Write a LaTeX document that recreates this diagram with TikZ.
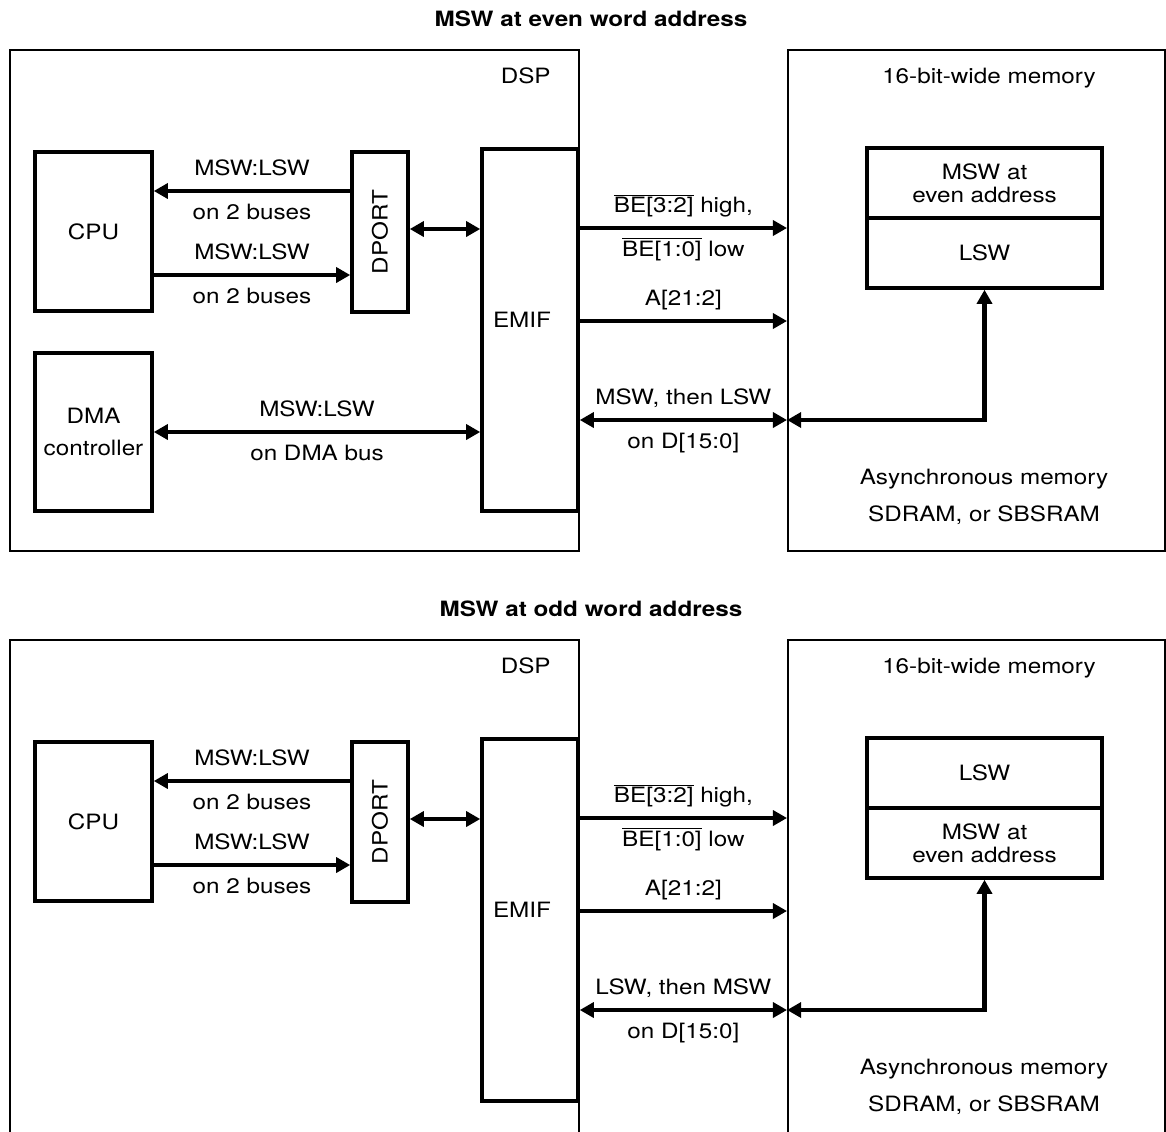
\documentclass[tikz,border=0pt]{standalone}
\usepackage{fontspec}
\setmainfont[FakeStretch=1.15]{TeX Gyre Heros}
\usetikzlibrary{positioning, arrows.meta}

\begin{document}
\begin{tikzpicture}[>={Triangle[length=8pt, width=8.5pt]}, font=\fontsize{12}{14}\selectfont,
    frame/.style={draw, line width=1.1pt, inner sep=0pt},
    blk/.style={draw, line width=2pt, inner sep=0pt, align=center},
    bus/.style={line width=2.6pt},
    lbl/.style={inner sep=0pt, text height=8.6pt, text depth=0pt},
    ttl/.style={inner sep=0pt, text height=8.6pt, text depth=0pt, font=\fontsize{12}{14}\selectfont\bfseries}]

    \useasboundingbox (0,0) rectangle (23.32,-22.62);

    % ===== Upper case: MSW at even word address =====
    \node[ttl, anchor=base] (titleA) at (11.82,-0.52) {MSW at even word address};

    % Outer frames
    \node[frame, minimum width=11.38cm, minimum height=10.02cm] (dspA) at (5.89,-6.01) {};
    \node[frame, minimum width=7.54cm, minimum height=10.02cm] (memA) at (19.53,-6.01) {};
    \node[lbl, anchor=base east] (dsplA) at (11.02,-1.66) {DSP};
    \node[lbl, anchor=base] (memlA) at (19.78,-1.66) {16-bit-wide memory};

    % Blocks inside the DSP
    \node[blk, minimum width=2.34cm, minimum height=3.18cm] (cpuA) at (1.87,-4.63) {CPU};
    \node[blk, minimum width=1.12cm, minimum height=3.2cm, label={[rotate=90]center:DPORT}] (dportA) at (7.6,-4.64) {};
    \node[blk, minimum width=1.92cm, minimum height=7.24cm] (emifA) at (10.6,-6.6) {};
    \node[lbl] (emiflA) at (10.44,-6.4) {EMIF};
    \node[blk, minimum width=2.34cm, minimum height=3.16cm, font=\fontsize{12}{18}\selectfont] (dmaA) at (1.87,-8.64) {DMA\\controller};

    % Memory cells
    \node[blk, minimum width=4.7cm, minimum height=1.4cm, font=\fontsize{12}{13}\selectfont] (hiA) at (19.69,-3.66) {MSW at\\even address};
    \node[blk, minimum width=4.7cm, minimum height=1.4cm] (loA) at (19.69,-5.06) {LSW};
    \node[align=center, font=\fontsize{12}{21}\selectfont] (asyA) at (19.68,-9.94) {Asynchronous memory\\SDRAM, or SBSRAM};

    % Bus levels
    \coordinate (r1A) at (0,-3.82);
    \coordinate (r2A) at (0,-5.5);
    \coordinate (r3A) at (0,-4.58);
    \coordinate (beA) at (0,-4.56);
    \coordinate (adA) at (0,-6.42);
    \coordinate (daA) at (0,-8.4);

    % CPU <-> DPORT <-> EMIF
    \draw[bus, ->] (dportA.west |- r1A) -- (cpuA.east |- r1A)
        node[midway, lbl, above=0.26cm] {MSW:LSW} node[midway, lbl, below=0.22cm] {on 2 buses};
    \draw[bus, ->] (cpuA.east |- r2A) -- (dportA.west |- r2A)
        node[midway, lbl, above=0.26cm] {MSW:LSW} node[midway, lbl, below=0.22cm] {on 2 buses};
    \draw[bus, <->] (dportA.east |- r3A) -- (emifA.west |- r3A);
    \draw[bus, <->] (dmaA.east) -- (dmaA.east -| emifA.west)
        node[midway, lbl, above=0.26cm] {MSW:LSW} node[midway, lbl, below=0.22cm] {on DMA bus};

    % EMIF -> memory
    \draw[bus, ->] (emifA.east |- beA) -- (memA.west |- beA)
        node[midway, lbl, above=0.26cm] {$\overline{\mbox{BE[3:2]}}$ high,}
        node[midway, lbl, below=0.22cm] {$\overline{\mbox{BE[1:0]}}$ low};
    \draw[bus, ->] (emifA.east |- adA) -- (memA.west |- adA)
        node[midway, lbl, above=0.26cm] {A[21:2]};
    \draw[bus, <->] (emifA.east |- daA) -- (memA.west |- daA)
        node[midway, lbl, above=0.26cm] {MSW, then LSW} node[midway, lbl, below=0.22cm] {on D[15:0]};
    \draw[bus, <->] (memA.west |- daA) -| (loA.south);

    % ===== Lower case: MSW at odd word address =====
    \begin{scope}[yshift=-11.8cm]
    \node[ttl, anchor=base] (titleB) at (11.82,-0.52) {MSW at odd word address};

    % Outer frames
    \node[frame, minimum width=11.38cm, minimum height=10.02cm] (dspB) at (5.89,-6.01) {};
    \node[frame, minimum width=7.54cm, minimum height=10.02cm] (memB) at (19.53,-6.01) {};
    \node[lbl, anchor=base east] (dsplB) at (11.02,-1.66) {DSP};
    \node[lbl, anchor=base] (memlB) at (19.78,-1.66) {16-bit-wide memory};

    % Blocks inside the DSP
    \node[blk, minimum width=2.34cm, minimum height=3.18cm] (cpuB) at (1.87,-4.63) {CPU};
    \node[blk, minimum width=1.12cm, minimum height=3.2cm, label={[rotate=90]center:DPORT}] (dportB) at (7.6,-4.64) {};
    \node[blk, minimum width=1.92cm, minimum height=7.24cm] (emifB) at (10.6,-6.6) {};
    \node[lbl] (emiflB) at (10.44,-6.4) {EMIF};

    % Memory cells
    \node[blk, minimum width=4.7cm, minimum height=1.4cm] (hiB) at (19.69,-3.66) {LSW};
    \node[blk, minimum width=4.7cm, minimum height=1.4cm, font=\fontsize{12}{13}\selectfont] (loB) at (19.69,-5.06) {MSW at\\even address};
    \node[align=center, font=\fontsize{12}{21}\selectfont] (asyB) at (19.68,-9.94) {Asynchronous memory\\SDRAM, or SBSRAM};

    % Bus levels
    \coordinate (r1B) at (0,-3.82);
    \coordinate (r2B) at (0,-5.5);
    \coordinate (r3B) at (0,-4.58);
    \coordinate (beB) at (0,-4.56);
    \coordinate (adB) at (0,-6.42);
    \coordinate (daB) at (0,-8.4);

    % CPU <-> DPORT <-> EMIF
    \draw[bus, ->] (dportB.west |- r1B) -- (cpuB.east |- r1B)
        node[midway, lbl, above=0.26cm] {MSW:LSW} node[midway, lbl, below=0.22cm] {on 2 buses};
    \draw[bus, ->] (cpuB.east |- r2B) -- (dportB.west |- r2B)
        node[midway, lbl, above=0.26cm] {MSW:LSW} node[midway, lbl, below=0.22cm] {on 2 buses};
    \draw[bus, <->] (dportB.east |- r3B) -- (emifB.west |- r3B);

    % EMIF -> memory
    \draw[bus, ->] (emifB.east |- beB) -- (memB.west |- beB)
        node[midway, lbl, above=0.26cm] {$\overline{\mbox{BE[3:2]}}$ high,}
        node[midway, lbl, below=0.22cm] {$\overline{\mbox{BE[1:0]}}$ low};
    \draw[bus, ->] (emifB.east |- adB) -- (memB.west |- adB)
        node[midway, lbl, above=0.26cm] {A[21:2]};
    \draw[bus, <->] (emifB.east |- daB) -- (memB.west |- daB)
        node[midway, lbl, above=0.26cm] {LSW, then MSW} node[midway, lbl, below=0.22cm] {on D[15:0]};
    \draw[bus, <->] (memB.west |- daB) -| (loB.south);
    \end{scope}

\end{tikzpicture}
\end{document}
